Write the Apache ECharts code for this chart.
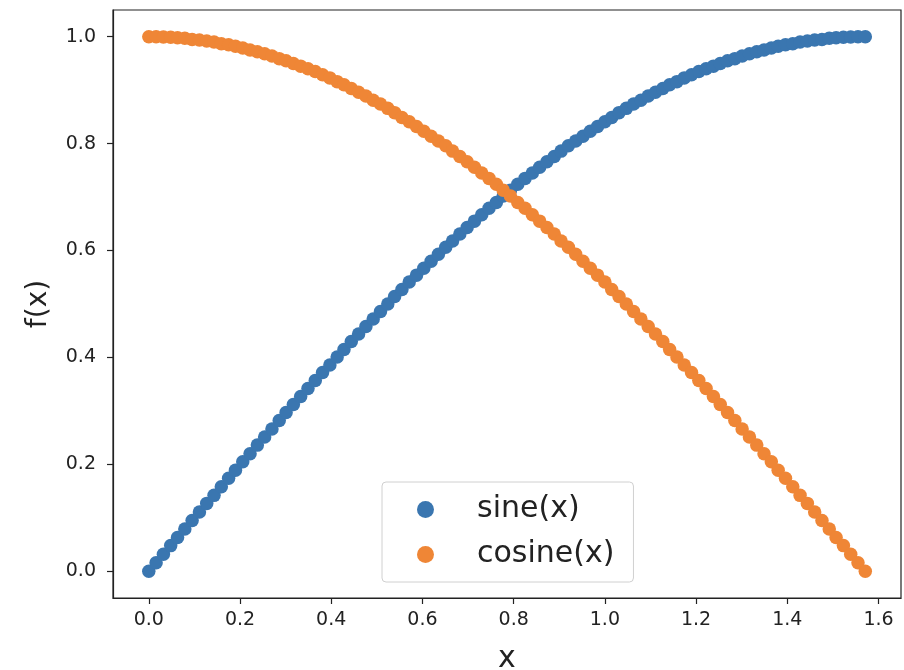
<!DOCTYPE html>
<html>
<head>
<meta charset="utf-8">
<script src="https://cdn.jsdelivr.net/npm/echarts@6/dist/echarts.min.js"></script>
<style>html,body{margin:0;padding:0;background:#fff}#c{width:904px;height:670px}</style>
</head>
<body>
<div id="c"></div>
<script>
const xValues = [
0.000,0.016,0.032,0.048,0.063,0.079,0.095,0.111,0.127,0.143,
0.159,0.175,0.190,0.206,0.222,0.238,0.254,0.270,0.286,0.301,
0.317,0.333,0.349,0.365,0.381,0.397,0.413,0.428,0.444,0.460,
0.476,0.492,0.508,0.524,0.539,0.555,0.571,0.587,0.603,0.619,
0.635,0.651,0.666,0.682,0.698,0.714,0.730,0.746,0.762,0.777,
0.793,0.809,0.825,0.841,0.857,0.873,0.889,0.904,0.920,0.936,
0.952,0.968,0.984,1.000,1.015,1.031,1.047,1.063,1.079,1.095,
1.111,1.127,1.142,1.158,1.174,1.190,1.206,1.222,1.238,1.253,
1.269,1.285,1.301,1.317,1.333,1.349,1.365,1.380,1.396,1.412,
1.428,1.444,1.460,1.476,1.492,1.507,1.523,1.539,1.555,1.571];
const sineValues = [
0.000,0.016,0.032,0.048,0.063,0.079,0.095,0.111,0.127,0.142,
0.158,0.174,0.189,0.205,0.220,0.236,0.251,0.266,0.282,0.297,
0.312,0.327,0.342,0.357,0.372,0.386,0.401,0.415,0.430,0.444,
0.458,0.472,0.486,0.500,0.514,0.527,0.541,0.554,0.567,0.580,
0.593,0.606,0.618,0.631,0.643,0.655,0.667,0.679,0.690,0.702,
0.713,0.724,0.735,0.745,0.756,0.766,0.776,0.786,0.796,0.805,
0.814,0.823,0.832,0.841,0.849,0.858,0.866,0.874,0.881,0.889,
0.896,0.903,0.910,0.916,0.923,0.929,0.935,0.940,0.945,0.950,
0.955,0.959,0.964,0.968,0.972,0.975,0.979,0.982,0.985,0.987,
0.990,0.992,0.994,0.995,0.997,0.998,0.999,0.9995,1.000,1.000];
const cosineValues = [
1.000,1.000,0.9995,0.999,0.998,0.997,0.995,0.994,0.992,0.990,
0.987,0.985,0.982,0.979,0.975,0.972,0.968,0.964,0.959,0.955,
0.950,0.945,0.940,0.935,0.929,0.923,0.916,0.910,0.903,0.896,
0.889,0.881,0.874,0.866,0.858,0.849,0.841,0.832,0.823,0.814,
0.805,0.796,0.786,0.776,0.766,0.756,0.745,0.735,0.724,0.713,
0.702,0.690,0.679,0.667,0.655,0.643,0.631,0.618,0.606,0.593,
0.580,0.567,0.554,0.541,0.527,0.514,0.500,0.486,0.472,0.458,
0.444,0.430,0.415,0.401,0.386,0.372,0.357,0.342,0.327,0.312,
0.297,0.282,0.266,0.251,0.236,0.220,0.205,0.189,0.174,0.158,
0.142,0.127,0.111,0.095,0.079,0.063,0.048,0.032,0.016,0.000];
const xTicks = [0.0,0.2,0.4,0.6,0.8,1.0,1.2,1.4,1.6];
const yTicks = [0.0,0.2,0.4,0.6,0.8,1.0];
const seriesNames = ['sine(x)','cosine(x)'];

const FONT = 'DejaVu Sans';
const chart = echarts.init(document.getElementById('c'), null, {renderer:'canvas'});
const pair = (ys) => xValues.map((x,i)=>[x, ys[i]]);
chart.setOption({
  animation:false,
  backgroundColor:'#fff',
  grid:{left:113,right:3,top:10,bottom:72,outerBoundsMode:'none',containLabel:false,show:true,borderColor:'#222',borderWidth:1.2,backgroundColor:'transparent'},
  xAxis:{type:'value',min:-0.0785,max:1.6493,
    name:'x',nameLocation:'middle',nameGap:46,
    nameTextStyle:{fontFamily:FONT,fontSize:30,color:'#222'},
    axisLine:{show:true,onZero:false,lineStyle:{color:'#222',width:1.2}},splitLine:{show:false},
    axisTick:{show:true,length:6,lineStyle:{color:'#222',width:1.2},customValues:xTicks},
    axisLabel:{customValues:xTicks,fontFamily:FONT,fontSize:19,color:'#222',margin:13,formatter:v=>v.toFixed(1)}},
  yAxis:{type:'value',min:-0.05,max:1.05,
    name:'f(x)',nameLocation:'middle',nameGap:60,nameRotate:90,
    nameTextStyle:{fontFamily:FONT,fontSize:28,color:'#222'},
    axisLine:{show:true,onZero:false,lineStyle:{color:'#222',width:1.2}},splitLine:{show:false},
    axisTick:{show:true,length:6,lineStyle:{color:'#222',width:1.2},customValues:yTicks},
    axisLabel:{customValues:yTicks,fontFamily:FONT,fontSize:19,color:'#222',margin:17,formatter:v=>v.toFixed(1)}},
  legend:{orient:'vertical',left:382,top:482,
    data:seriesNames.map(n=>({name:n,icon:'circle'})),
    itemWidth:17,itemHeight:17,itemGap:12,
    padding:[11,19,11,35],
    borderColor:'#d0d0d0',borderWidth:1,borderRadius:4,backgroundColor:'#fff',
    textStyle:{fontFamily:FONT,fontSize:30,color:'#222',lineHeight:33,padding:[0,0,0,38]}},
  series:[
    {name:seriesNames[0],type:'scatter',data:pair(sineValues),symbolSize:13.5,itemStyle:{color:'#3a76b0',opacity:1}},
    {name:seriesNames[1],type:'scatter',data:pair(cosineValues),symbolSize:13.5,itemStyle:{color:'#ef8636',opacity:1}}
  ]
});
</script>
</body>
</html>
